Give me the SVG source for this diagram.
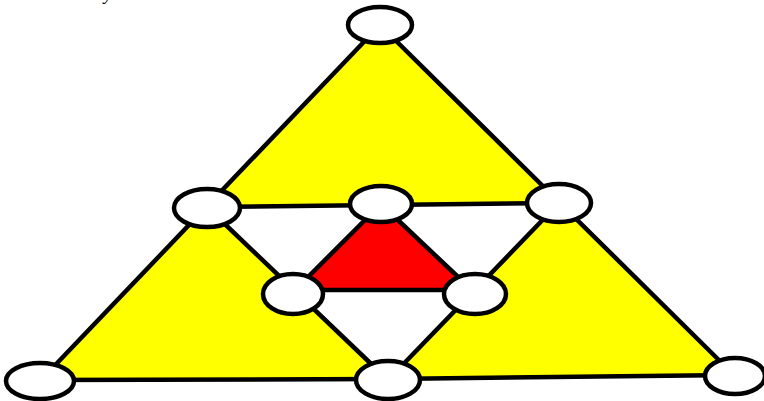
<svg xmlns="http://www.w3.org/2000/svg" width="764" height="401" viewBox="0 0 764 401">
  <style>
    .face { stroke: none; }
    .yellow { fill: #ffff00; }
    .red { fill: #ff0000; }
    .edge { stroke: #000; stroke-width: 4.5; fill: none; stroke-linecap: round; }
    .node ellipse { fill: #fff; stroke: #000; stroke-width: 4.5; }
    .frag { font-family: "Liberation Serif", serif; font-style: italic; font-size: 18px; fill: #000; }
  </style>
  <rect width="764" height="401" fill="#fff"/>
  <text class="frag" x="104" y="0">y</text>
  <g id="faces">
    <polygon class="face yellow" points="380,25 207,207 559,203"/>
    <polygon class="face yellow" points="207,207 40,380 388,379"/>
    <polygon class="face yellow" points="559,203 388,379 735,375"/>
    <polygon class="face red" points="381,204 293,290 472,290"/>
  </g>
  <g id="connectors">
    <line class="edge" x1="380" y1="25" x2="40" y2="381"/>
    <line class="edge" x1="380" y1="25" x2="735" y2="376"/>
    <polyline class="edge" points="40,380 388,379 735,375"/>
    <line class="edge" x1="207" y1="207" x2="559" y2="203"/>
    <line class="edge" x1="207" y1="207" x2="388" y2="380"/>
    <line class="edge" x1="559" y1="203" x2="388" y2="380"/>
    <line class="edge" x1="381" y1="204" x2="293" y2="292"/>
    <line class="edge" x1="381" y1="204" x2="474" y2="292"/>
    <line class="edge" x1="293" y1="290" x2="474" y2="290"/>
  </g>
  <g id="n-top" class="node"><ellipse cx="380" cy="25" rx="32" ry="18"/></g>
  <g id="n-left" class="node"><ellipse cx="207" cy="208" rx="33" ry="19"/></g>
  <g id="n-center" class="node"><ellipse cx="381" cy="204" rx="31" ry="18"/></g>
  <g id="n-right" class="node"><ellipse cx="559" cy="203" rx="32" ry="19"/></g>
  <g id="n-inner-left" class="node"><ellipse cx="293" cy="294" rx="30" ry="20"/></g>
  <g id="n-inner-right" class="node"><ellipse cx="475" cy="294" rx="31" ry="20"/></g>
  <g id="n-bottom-left" class="node"><ellipse cx="40" cy="381" rx="34" ry="18"/></g>
  <g id="n-bottom-center" class="node"><ellipse cx="388" cy="380" rx="32" ry="19"/></g>
  <g id="n-bottom-right" class="node"><ellipse cx="735" cy="376" rx="30" ry="18"/></g>
</svg>
